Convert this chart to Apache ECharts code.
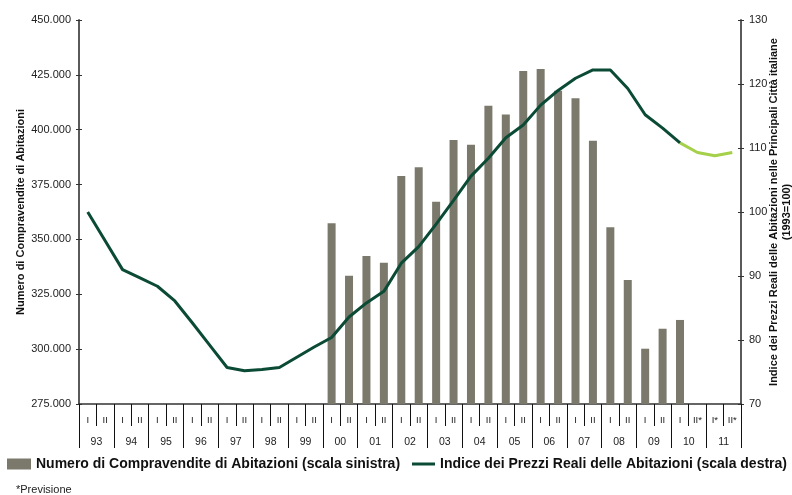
<!DOCTYPE html>
<html>
<head>
<meta charset="utf-8">
<script src="https://cdn.jsdelivr.net/npm/echarts@6/dist/echarts.min.js"></script>
<style>
  html, body { margin: 0; padding: 0; background: #fff; }
  #chart { width: 792px; height: 495px; }
</style>
</head>
<body>
<div id="chart"></div>
<script>
// semestri (riga alta) e anni (riga bassa)
var semesters = [
  'I', 'II', 'I', 'II', 'I', 'II', 'I', 'II', 'I', 'II', 'I', 'II', 'I', 'II',
  'I', 'II', 'I', 'II', 'I', 'II', 'I', 'II', 'I', 'II', 'I', 'II', 'I', 'II',
  'I', 'II', 'I', 'II', 'I', 'II', 'I', 'II*', 'I*', 'II*'
];
var years = ['93', '94', '95', '96', '97', '98', '99', '00', '01', '02',
  '03', '04', '05', '06', '07', '08', '09', '10', '11'];

// numero di compravendite (scala sinistra), dal 2000 I al 2010 I
var sales = [
  null, null, null, null, null, null, null, null, null, null, null, null, null, null,
  357400, 333500, 342500, 339400, 378900, 382900, 367200, 395300, 393200, 410900,
  406900, 426800, 427700, 417800, 414300, 395000, 355500, 331500, 300200, 309300,
  313300, null, null, null
];

// indice prezzi reali (scala destra), consuntivo
var priceIndex = [
  100, 95.5, 91.0, 89.7, 88.4, 86.1, 82.7, 79.2, 75.7, 75.2, 75.4, 75.7, 77.3, 78.9,
  80.4, 83.6, 85.8, 87.6, 92.0, 94.6, 98.1, 101.8, 105.6, 108.4, 111.6, 113.6, 116.7, 119.0,
  120.9, 122.2, 122.2, 119.3, 115.2, 113.1, 110.8, null, null, null
];

// previsione
var priceForecast = [
  null, null, null, null, null, null, null, null, null, null, null, null, null, null,
  null, null, null, null, null, null, null, null, null, null, null, null, null, null,
  null, null, null, null, null, null, 110.8, 109.3, 108.8, 109.3
];

var salesName = 'Numero di Compravendite di Abitazioni (scala sinistra)';
var priceName = 'Indice dei Prezzi Reali delle Abitazioni (scala destra)';

var font = 'Arial, "Liberation Sans", sans-serif';
var axisColor = '#5a5a5a';
var legendText = { fontSize: 14, fontWeight: 'bold', color: '#111', fontFamily: font };

function thousands(v) {
  return String(v).replace(/\B(?=(\d{3})+(?!\d))/g, '.');
}

var chart = echarts.init(document.getElementById('chart'));

var option = {
  animation: false,
  backgroundColor: '#fff',
  textStyle: { fontFamily: font },
  grid: { left: 79, right: 51, top: 20, bottom: 91, outerBoundsMode: 'none', containLabel: false },
  title: {
    text: '*Previsione',
    left: 16,
    top: 484,
    padding: 0,
    textStyle: { fontSize: 11, fontWeight: 'normal', color: '#222', fontFamily: font }
  },
  legend: [
    {
      left: 7,
      top: 457,
      padding: 0,
      itemWidth: 24,
      itemHeight: 11,
      textStyle: legendText,
      data: [{ name: salesName, icon: 'rect' }]
    },
    {
      left: 412,
      top: 457,
      padding: 0,
      itemWidth: 23,
      itemHeight: 3,
      textStyle: legendText,
      data: [{ name: priceName, icon: 'rect' }]
    }
  ],
  xAxis: [
    {
      type: 'category',
      data: semesters,
      position: 'bottom',
      axisLine: { show: true, lineStyle: { color: '#333', width: 1.5 } },
      axisTick: { show: true, alignWithLabel: false, interval: 0, length: 22, lineStyle: { color: '#111', width: 1 } },
      axisLabel: { interval: 0, fontSize: 9.5, margin: 11, color: '#222' },
      splitLine: { show: false }
    },
    {
      type: 'category',
      data: years,
      position: 'bottom',
      offset: 0,
      axisLine: { show: false },
      axisTick: { show: true, alignWithLabel: false, interval: 0, length: 44, lineStyle: { color: '#111', width: 1 } },
      axisLabel: { interval: 0, fontSize: 10.5, margin: 33, color: '#222' },
      splitLine: { show: false }
    }
  ],
  yAxis: [
    {
      type: 'value',
      position: 'left',
      min: 275000,
      max: 450000,
      interval: 25000,
      name: 'Numero di Compravendite di Abitazioni',
      nameLocation: 'middle',
      nameGap: 53,
      nameMoveOverlap: false,
      nameTextStyle: { fontSize: 11, fontWeight: 'bold', color: '#111' },
      axisLine: { show: true, lineStyle: { color: axisColor, width: 2 } },
      axisTick: { show: true, length: 3, lineStyle: { color: '#333' } },
      axisLabel: { fontSize: 11, margin: 8, color: '#222', formatter: thousands },
      splitLine: { show: false }
    },
    {
      type: 'value',
      position: 'right',
      min: 70,
      max: 130,
      interval: 10,
      name: 'Indice dei Prezzi Reali delle Abitazioni nelle Principali Città italiane\n(1993=100)',
      nameLocation: 'middle',
      nameRotate: 90,
      nameGap: 26,
      nameMoveOverlap: false,
      nameTextStyle: { fontSize: 11, fontWeight: 'bold', color: '#111', lineHeight: 13, align: 'center' },
      axisLine: { show: true, lineStyle: { color: axisColor, width: 2 } },
      axisTick: { show: true, length: 3, lineStyle: { color: '#333' } },
      axisLabel: { fontSize: 11, margin: 8, color: '#222' },
      splitLine: { show: false }
    },
    // tacche interne (le tacche attraversano l'asse)
    {
      type: 'value', position: 'left', min: 275000, max: 450000, interval: 25000,
      axisLine: { show: false },
      axisTick: { show: true, inside: true, length: 3, lineStyle: { color: '#333' } },
      axisLabel: { show: false }, splitLine: { show: false }
    },
    {
      type: 'value', position: 'right', min: 70, max: 130, interval: 10,
      axisLine: { show: false },
      axisTick: { show: true, inside: true, length: 3, lineStyle: { color: '#333' } },
      axisLabel: { show: false }, splitLine: { show: false }
    }
  ],
  series: [
    {
      name: salesName,
      type: 'bar',
      xAxisIndex: 0,
      yAxisIndex: 0,
      data: sales,
      barWidth: 8,
      itemStyle: { color: '#7b786c' },
      z: 2
    },
    {
      name: priceName,
      type: 'line',
      xAxisIndex: 0,
      yAxisIndex: 1,
      data: priceIndex,
      symbol: 'none',
      lineStyle: { color: '#0b4a35', width: 3 },
      itemStyle: { color: '#0b4a35' },
      z: 4
    },
    {
      name: 'Previsione',
      type: 'line',
      xAxisIndex: 0,
      yAxisIndex: 1,
      data: priceForecast,
      symbol: 'none',
      lineStyle: { color: '#a4d04a', width: 3 },
      itemStyle: { color: '#a4d04a' },
      z: 3
    }
  ]
};

chart.setOption(option);
</script>
</body>
</html>
